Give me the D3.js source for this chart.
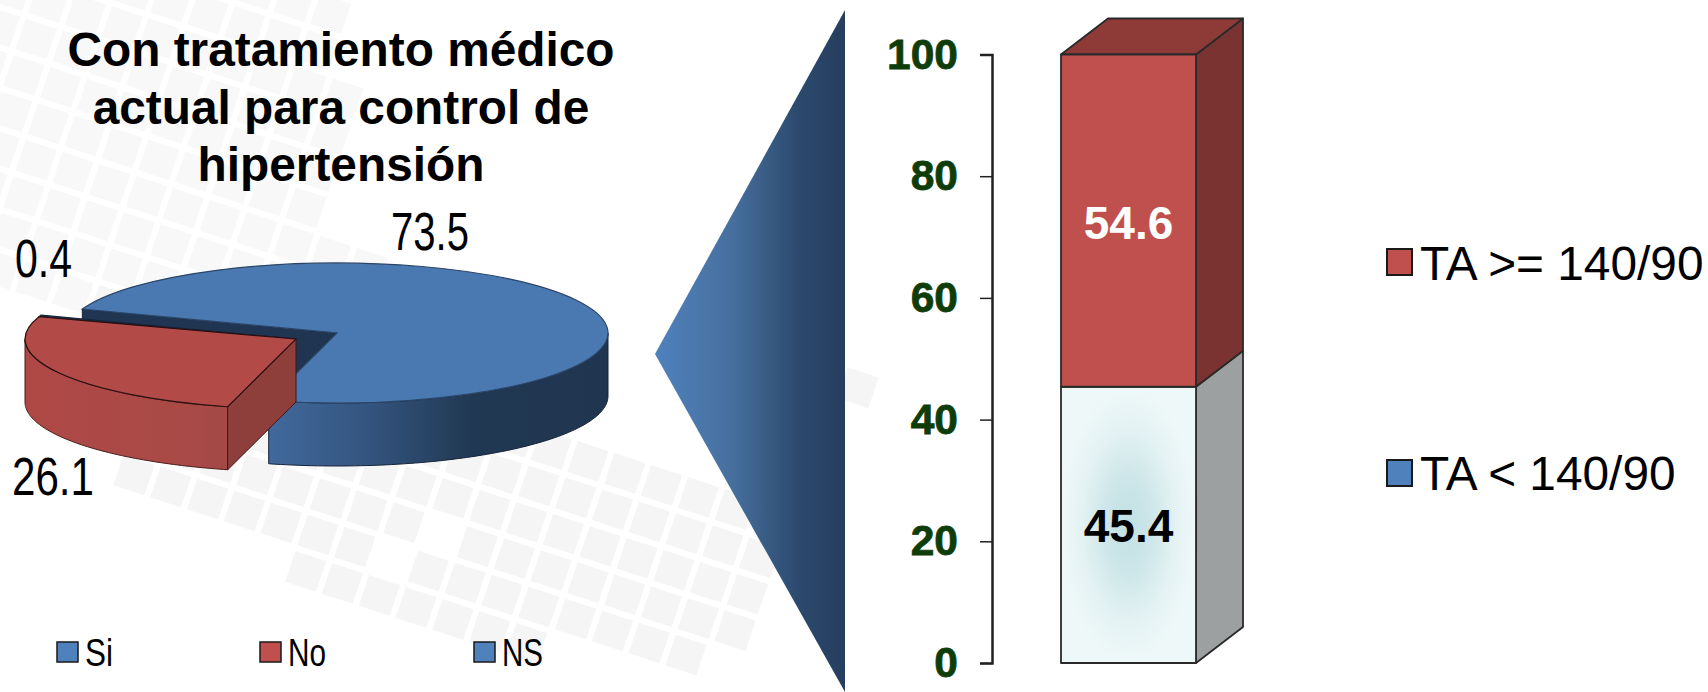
<!DOCTYPE html>
<html lang="es"><head><meta charset="utf-8">
<script src="https://cdn.jsdelivr.net/npm/d3@7"></script>
<style>html,body{margin:0;padding:0;background:#fff;overflow:hidden}svg{display:block}text{font-family:"Liberation Sans",Arial,sans-serif}</style>
</head><body><div id="chart"></div>
<script>
// ---- data ----
const pieCategories = ["Si","No","NS"];
const pieValues = [73.5,26.1,0.4];
const pieLabels = ["73.5","26.1","0.4"];
const titleLines = ["Con tratamiento médico","actual para control de","hipertensión"];
const barSeries = ["TA < 140/90","TA >= 140/90"];
const barValues = [45.4,54.6];
const barTicks = [0,20,40,60,80,100];

// ---- page ----
const W=1708,H=692;
const svg=d3.select("#chart").append("svg").attr("width",W).attr("height",H).attr("viewBox",[0,0,W,H]);
const defs=svg.append("defs");
function linGrad(id,x1,x2,stops){
  const g=defs.append("linearGradient").attr("id",id).attr("gradientUnits","userSpaceOnUse")
    .attr("x1",x1).attr("x2",x2).attr("y1",0).attr("y2",0);
  stops.forEach(s=>g.append("stop").attr("offset",s[0]).attr("stop-color",s[1]));
}
linGrad("blueSide",269,608,[[0,"#41699c"],[.3,"#33547e"],[.6,"#213852"],[1,"#1f3550"]]);
linGrad("redSide",25,296,[[0,"#ae4845"],[.6,"#a94a47"],[1,"#9c4744"]]);
linGrad("funnel",655,845,[[0,"#4f81bd"],[.4,"#47709f"],[.75,"#2c4a6e"],[1,"#263e5e"]]);
const rg=defs.append("radialGradient").attr("id","pale").attr("cx",.5).attr("cy",.5).attr("r",.5);
[[0,"#c1e0e4"],[.35,"#cde6e9"],[.7,"#e4f2f3"],[1,"#eef8f8"]].forEach(s=>rg.append("stop").attr("offset",s[0]).attr("stop-color",s[1]));
defs.append("clipPath").attr("id","tileClip").append("path").attr("d","M0 0H1708V627H660V692H0Z M660 627H760V692H660Z");

// ---- background tiles ----
const A=[36.8,12],B=[-12.3,36.4],O=[320,478.3],F=.84;
const upperRegion=[[-80,-80],[365,-80],[350,110],[340,240],[560,400],[545,470],[500,490],[462,520],[405,520],[400,545],[320,600],[295,600],[280,560],[110,470],[60,300],[-80,250]];
const regions=[
 upperRegion,
 [[470,480],[560,440],[700,460],[745,500],[790,585],[745,650],[660,650],[380,640],[370,590],[440,550]],
 [[846,360],[885,370],[875,470],[846,470]],
 [[665,632],[715,632],[715,680],[665,680]]
];
const tiles=[];
d3.range(-25,25).forEach(i=>d3.range(-25,25).forEach(j=>{
  const p=[O[0]+i*A[0]+j*B[0],O[1]+i*A[1]+j*B[1]];
  const c=[p[0]+F*(A[0]+B[0])/2,p[1]+F*(A[1]+B[1])/2];
  if(regions.some(r=>d3.polygonContains(r,c))) tiles.push({p,up:c[1]<300});
}));
svg.append("g").attr("clip-path","url(#tileClip)").selectAll("path").data(tiles).join("path")
  .attr("fill",d=>d.up?"#f8f8f8":"#f5f5f5")
  .attr("d",({p})=>d3.line()([p,[p[0]+F*A[0],p[1]+F*A[1]],[p[0]+F*(A[0]+B[0]),p[1]+F*(A[1]+B[1])],[p[0]+F*B[0],p[1]+F*B[1]]])+"Z");

// ---- title ----
svg.append("g").selectAll("text").data(titleLines).join("text")
  .attr("x",341).attr("y",(d,i)=>[66,124,181][i]).attr("text-anchor","middle")
  .attr("font-weight",700).attr("font-size",47.8).attr("fill","#000").text(d=>d);

// ---- exploded 3D pie ----
const rx=271,ry=70,depth=63,C=[337,333],offset=[-41,6];
const startDeg=290;
const arcs=d3.pie().sort(null).value(d=>d)
  .startAngle(startDeg*Math.PI/180).endAngle((startDeg+360)*Math.PI/180)(pieValues);
const pieG=svg.append("g");
const proj=(t,c,z=0)=>[c[0]+rx*Math.sin(t),c[1]-ry*Math.cos(t)+z];
const arcGen=d3.arc().innerRadius(0).outerRadius(rx);
const norm=t=>{const k=2*Math.PI;return ((t%k)+k)%k};
function rim(a,b,c){
  const n=80,ts=d3.range(n+1).map(i=>a+(b-a)*i/n);
  return d3.line()(ts.map(t=>proj(t,c)).concat(ts.slice().reverse().map(t=>proj(t,c,depth))))+"Z";
}
function wall(t,c){return d3.line()([c,proj(t,c),proj(t,c,depth),[c[0],c[1]+depth]])+"Z";}
function topFace(arc,c,fill,stroke){
  pieG.append("path").attr("transform",`translate(${c[0]},${c[1]}) scale(1,${ry/rx})`)
    .attr("d",arcGen({startAngle:arc.startAngle,endAngle:arc.endAngle}))
    .attr("fill",fill).attr("stroke",stroke).attr("stroke-width",1.2)
    .style("vector-effect","non-scaling-stroke");
}
const [si,no,ns]=arcs;
const edge="#16233a";
// Si
pieG.append("path").attr("d",wall(si.startAngle,C)).attr("fill","#1f3552").attr("stroke",edge);
pieG.append("path").attr("d",rim(Math.PI/2,norm(si.endAngle),C)).attr("fill","url(#blueSide)").attr("stroke",edge);
topFace(si,C,"#4a78b0","#2b4668");
// NS sliver, pulled out along with No
const C2=[C[0]+offset[0],C[1]+offset[1]];
topFace(ns,C2,"#294a74",edge);
// No
pieG.append("path").attr("d",rim(norm(no.startAngle),1.5*Math.PI,C2)).attr("fill","url(#redSide)").attr("stroke","#4a1c1a");
pieG.append("path").attr("d",wall(norm(no.startAngle),C2)).attr("fill","#8e3f3c").attr("stroke","#3e1715");
topFace(no,C2,"#b24b48","#2a1010");

// pie value labels (condensed)
const pieLabelPos=[[391,249.5,78],[12,495,82],[15,277,57]];
svg.append("g").selectAll("text").data(pieLabels).join("text")
  .attr("x",(d,i)=>pieLabelPos[i][0]).attr("y",(d,i)=>pieLabelPos[i][1])
  .attr("font-size",53).attr("fill","#000")
  .attr("textLength",(d,i)=>pieLabelPos[i][2]).attr("lengthAdjust","spacingAndGlyphs").text(d=>d);

// pie legend
const leg=svg.append("g").selectAll("g").data(pieCategories).join("g")
  .attr("transform",(d,i)=>`translate(${[57,260,474][i]},642)`);
leg.append("rect").attr("width",21).attr("height",20)
  .attr("fill",(d,i)=>["#4f81bd","#c0504d","#4f81bd"][i]).attr("stroke","#1a1a1a").attr("stroke-width",1.5);
leg.append("text").attr("x",28).attr("y",24).attr("font-size",38).attr("fill","#000")
  .attr("textLength",d=>({Si:28,No:38,NS:41})[d]).attr("lengthAdjust","spacingAndGlyphs").text(d=>d);

// ---- funnel connector ----
svg.append("path").attr("d",d3.line()([[655,354],[845,10],[845,692]])+"Z").attr("fill","url(#funnel)");

// ---- stacked 3D bar ----
const y=d3.scaleLinear().domain([0,100]).range([663,54.5]);
const x=d3.scaleBand().domain(["total"]).range([1061,1196]);
const dx=47,dy=-36;
const axis=svg.append("g").attr("transform","translate(992,0)")
  .call(d3.axisLeft(y).tickValues(barTicks).tickSize(12).tickPadding(22));
axis.selectAll("path,line").attr("stroke","#222").attr("stroke-width",1.5);
axis.select(".domain").attr("stroke-width",2.5);
axis.selectAll("text").attr("font-family","Liberation Sans").attr("font-weight",700)
  .attr("font-size",42.5).attr("fill","#0f3d0a").attr("stroke","#0f3d0a").attr("stroke-width",.8);

let cum=0;
const stack=barValues.map(v=>{const s={y0:cum,y1:cum+v};cum+=v;return s;});
const bx=x("total"),bw=x.bandwidth();
const barG=svg.append("g").attr("stroke","#2a2a2a").attr("stroke-width",1.8).attr("stroke-linejoin","round");
const sideFill=["#9ca0a0","#7b3331"],frontFill=["url(#pale)","#c0504d"];
barG.selectAll("path.side").data(stack).join("path").attr("class","side").attr("fill",(d,i)=>sideFill[i])
  .attr("d",d=>d3.line()([[bx+bw,y(d.y0)],[bx+bw+dx,y(d.y0)+dy],[bx+bw+dx,y(d.y1)+dy],[bx+bw,y(d.y1)]])+"Z");
barG.append("path").attr("fill","#8e3b38")
  .attr("d",d3.line()([[bx,y(100)],[bx+dx,y(100)+dy],[bx+bw+dx,y(100)+dy],[bx+bw,y(100)]])+"Z");
barG.selectAll("rect").data(stack).join("rect").attr("x",bx).attr("width",bw)
  .attr("y",d=>y(d.y1)).attr("height",d=>y(d.y0)-y(d.y1)).attr("fill",(d,i)=>frontFill[i]);
svg.append("g").selectAll("text").data(barValues).join("text")
  .attr("x",bx+bw/2).attr("y",(d,i)=>[542,238.5][i]).attr("text-anchor","middle")
  .attr("font-weight",700).attr("font-size",46).attr("fill",(d,i)=>["#000","#fff"][i]).text(d=>d3.format(".1f")(d));

// bar legend
const leg2=svg.append("g").selectAll("g").data(barSeries).join("g")
  .attr("transform",(d,i)=>`translate(1387,${[460,249][i]})`);
leg2.append("rect").attr("width",25).attr("height",26).attr("fill",(d,i)=>["#4f81bd","#c0504d"][i])
  .attr("stroke","#1a1a1a").attr("stroke-width",2);
leg2.append("text").attr("x",33).attr("y",(d,i)=>[30,31][i]).attr("font-size",47.8).attr("fill","#000").text(d=>d);
</script></body></html>
